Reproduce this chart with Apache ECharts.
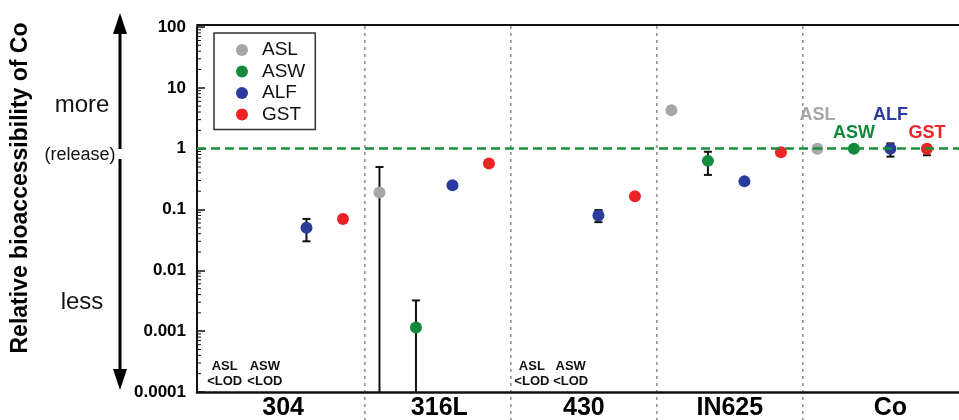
<!DOCTYPE html>
<html>
<head>
<meta charset="utf-8">
<script src="https://cdn.jsdelivr.net/npm/echarts@6/dist/echarts.min.js"></script>
<style>
  html, body { margin: 0; padding: 0; background: #fff; }
  #chart { width: 959px; height: 420px; }
</style>
</head>
<body>
<div id="chart"></div>
<script>
const categories = ['304', '316L', '430', 'IN625', 'Co'];
const media = ['ASL', 'ASW', 'ALF', 'GST'];
const mediaColors = ['#a6a6a6', '#138a3c', '#2b3c9c', '#ee2326'];

// relative bioaccessibility, one value per category (null = <LOD)
const aslValues = [null, 0.19, null, 4.3, 1.0];
const aswValues = [null, 0.00115, null, 0.63, 1.0];
const alfValues = [0.05, 0.25, 0.08, 0.29, 1.0];
const gstValues = [0.07, 0.57, 0.165, 0.87, 1.0];

// error bars [low, high]; low 0 = runs below the axis
const aslErr = [null, [0, 0.5], null, null, null];
const aswErr = [null, [0, 0.0032], null, [0.37, 0.89], null];
const alfErr = [[0.03, 0.07], null, [0.062, 0.098], null, [0.74, 1.22]];
const gstErr = [null, null, null, null, [0.78, 1.15]];

// "<LOD" notes
const lodX = [0.04, 0.315, 2.144, 2.41];
const lodText = ['ASL', 'ASW', 'ASL', 'ASW'];

const yTickLabels = ['0.0001', '0.001', '0.01', '0.1', '1', '10', '100'];
const separatorX = [1, 2, 3, 4];
const catLabelX = [0.44, 1.51, 2.5, 3.5, 4.6];

// styling
const slotOffset = [0.1, 0.35, 0.6, 0.85];
const coLabelLift = [19, 1, 19, 1];
const FONT = "'Liberation Sans', Arial, sans-serif";

const allValues = [aslValues, aswValues, alfValues, gstValues];
const allErr = [aslErr, aswErr, alfErr, gstErr];

const chart = echarts.init(document.getElementById('chart'));

const scatterSeries = media.map((name, m) => ({
  name,
  type: 'scatter',
  symbol: 'circle',
  symbolSize: 12,
  z: 3,
  itemStyle: { color: mediaColors[m], opacity: 1 },
  data: allValues[m]
    .map((v, i) => v == null ? null : {
      value: [i + slotOffset[m], v],
      label: i === categories.length - 1 ? {
        show: true,
        formatter: name,
        position: 'top',
        distance: coLabelLift[m],
        color: mediaColors[m],
        fontWeight: 'bold',
        fontSize: 18,
        fontFamily: FONT
      } : { show: false }
    })
    .filter(d => d)
}));

const errData = [];
allErr.forEach((arr, m) => {
  arr.forEach((e, i) => {
    if (e) errData.push([i + slotOffset[m], e[0], e[1]]);
  });
});

// minor log ticks (2..9 in every decade)
const minorTickVals = [];
for (let d = -4; d < 2; d++) {
  for (let k = 2; k <= 9; k++) minorTickVals.push([-0.15, k * Math.pow(10, d)]);
}

const option = {
  animation: false,
  backgroundColor: '#fff',
  grid: { left: 197, right: 0, top: 27, bottom: 28 },
  legend: {
    orient: 'vertical',
    left: 214,
    top: 33,
    data: media,
    icon: 'circle',
    itemWidth: 12,
    itemHeight: 12,
    itemGap: 1.5,
    padding: [7, 10, 5, 22],
    borderColor: '#333',
    borderWidth: 1.5,
    backgroundColor: '#fff',
    textStyle: { fontSize: 19, lineHeight: 20, color: '#111', fontFamily: FONT, padding: [0, 0, 0, 9] }
  },
  xAxis: [{
    type: 'value',
    min: -0.15,
    max: 5.07,
    axisLine: { show: true, onZero: false, lineStyle: { color: '#111', width: 2.5 } },
    axisTick: { show: false },
    axisLabel: { show: false },
    splitLine: { show: false }
  }, {
    type: 'value',
    position: 'top',
    offset: 2,
    min: -0.15,
    max: 5.07,
    axisLine: { show: true, onZero: false, lineStyle: { color: '#111', width: 2 } },
    axisTick: { show: false },
    axisLabel: { show: false },
    splitLine: { show: false }
  }],
  yAxis: {
    type: 'log',
    logBase: 10,
    min: 0.0001,
    max: 100,
    axisLine: { show: true, onZero: false, lineStyle: { color: '#111', width: 2 } },
    axisTick: { show: true, inside: true, length: 8, lineStyle: { color: '#111', width: 1.5 } },
    minorTick: { show: false },
    splitLine: { show: false },
    axisLabel: {
      color: '#000',
      fontWeight: 'bold',
      fontSize: 17,
      fontFamily: FONT,
      margin: 11,
      formatter: v => {
        const idx = Math.round(Math.log10(v)) + 4;
        return yTickLabels[idx] || '';
      }
    }
  },
  series: [
    {
      // category separators
      type: 'custom',
      silent: true,
      clip: false,
      z: 0,
      data: separatorX.map(x => [x, 1]),
      renderItem: (params, api) => {
        const cs = params.coordSys;
        const p = api.coord([api.value(0), 1]);
        return {
          type: 'line',
          shape: { x1: p[0], y1: cs.y - 1, x2: p[0], y2: api.getHeight() },
          style: { stroke: '#8c8c8c', lineWidth: 1.5, lineDash: [3, 4] }
        };
      }
    },
    {
      // category names below the axis
      type: 'custom',
      silent: true,
      clip: false,
      data: catLabelX.map((x, i) => [x, 1, i]),
      renderItem: (params, api) => {
        const cs = params.coordSys;
        const p = api.coord([api.value(0), 1]);
        return {
          type: 'text',
          x: p[0],
          y: cs.y + cs.height + 16,
          style: {
            text: categories[api.value(2)],
            fill: '#000',
            font: 'bold 25px ' + FONT,
            textAlign: 'center', textVerticalAlign: 'middle',
            align: 'center', verticalAlign: 'middle'
          }
        };
      }
    },
    {
      // <LOD notes
      type: 'custom',
      silent: true,
      clip: false,
      data: lodX.map((x, i) => [x, 0.0001, i]),
      renderItem: (params, api) => {
        const p = api.coord([api.value(0), api.value(1)]);
        return {
          type: 'text',
          x: p[0],
          y: p[1] - 3,
          style: {
            text: lodText[api.value(2)] + '\n<LOD',
            fill: '#111',
            font: 'bold 13px ' + FONT,
            lineHeight: 15,
            textAlign: 'center', textVerticalAlign: 'bottom',
            align: 'center', verticalAlign: 'bottom'
          }
        };
      }
    },
    {
      // minor log ticks on the y axis
      type: 'custom',
      silent: true,
      clip: false,
      data: minorTickVals,
      renderItem: (params, api) => {
        const cs = params.coordSys;
        const p = api.coord([api.value(0), api.value(1)]);
        return {
          type: 'line',
          shape: { x1: cs.x, y1: p[1], x2: cs.x + 4, y2: p[1] },
          style: { stroke: '#111', lineWidth: 1 }
        };
      }
    },
    {
      // error bars
      type: 'custom',
      silent: true,
      z: 2,
      data: errData,
      renderItem: (params, api) => {
        const cs = params.coordSys;
        const x = api.value(0), lo = api.value(1), hi = api.value(2);
        const top = api.coord([x, hi]);
        const botY = lo > 0 ? api.coord([x, lo])[1] : cs.y + cs.height;
        const half = 4;
        const style = { stroke: '#111', lineWidth: 2 };
        const children = [
          { type: 'line', shape: { x1: top[0], y1: top[1], x2: top[0], y2: botY }, style },
          { type: 'line', shape: { x1: top[0] - half, y1: top[1], x2: top[0] + half, y2: top[1] }, style }
        ];
        if (lo > 0) {
          children.push({ type: 'line', shape: { x1: top[0] - half, y1: botY, x2: top[0] + half, y2: botY }, style });
        }
        return { type: 'group', children };
      }
    },
    ...scatterSeries,
    {
      // reference line at 1
      type: 'line',
      data: [],
      z: 5,
      markLine: {
        silent: true,
        symbol: ['none', 'none'],
        label: { show: false },
        lineStyle: { color: '#1a8f3a', width: 2.5, type: [9, 5] },
        data: [{ yAxis: 1 }]
      }
    }
  ],
  graphic: [
    {
      type: 'text',
      x: 21, y: 188,
      rotation: Math.PI / 2,
      style: {
        text: 'Relative bioaccessibility of Co',
        fill: '#000',
        font: 'bold 23px ' + FONT,
        textAlign: 'center', textVerticalAlign: 'middle',
        align: 'center', verticalAlign: 'middle'
      }
    },
    { type: 'line', shape: { x1: 120, y1: 30, x2: 120, y2: 149 }, style: { stroke: '#000', lineWidth: 3 } },
    { type: 'polygon', shape: { points: [[120, 13], [113, 34], [127, 34]] }, style: { fill: '#000' } },
    { type: 'line', shape: { x1: 120, y1: 159, x2: 120, y2: 372 }, style: { stroke: '#000', lineWidth: 3 } },
    { type: 'polygon', shape: { points: [[120, 390], [113, 369], [127, 369]] }, style: { fill: '#000' } },
    {
      type: 'text', x: 82, y: 105,
      style: { text: 'more', fill: '#111', font: '24px ' + FONT, textAlign: 'center', textVerticalAlign: 'middle', align: 'center', verticalAlign: 'middle' }
    },
    {
      type: 'text', x: 80, y: 155,
      style: { text: '(release)', fill: '#111', font: '18px ' + FONT, textAlign: 'center', textVerticalAlign: 'middle', align: 'center', verticalAlign: 'middle' }
    },
    {
      type: 'text', x: 82, y: 302,
      style: { text: 'less', fill: '#111', font: '24px ' + FONT, textAlign: 'center', textVerticalAlign: 'middle', align: 'center', verticalAlign: 'middle' }
    }
  ]
};

chart.setOption(option);
</script>
</body>
</html>
